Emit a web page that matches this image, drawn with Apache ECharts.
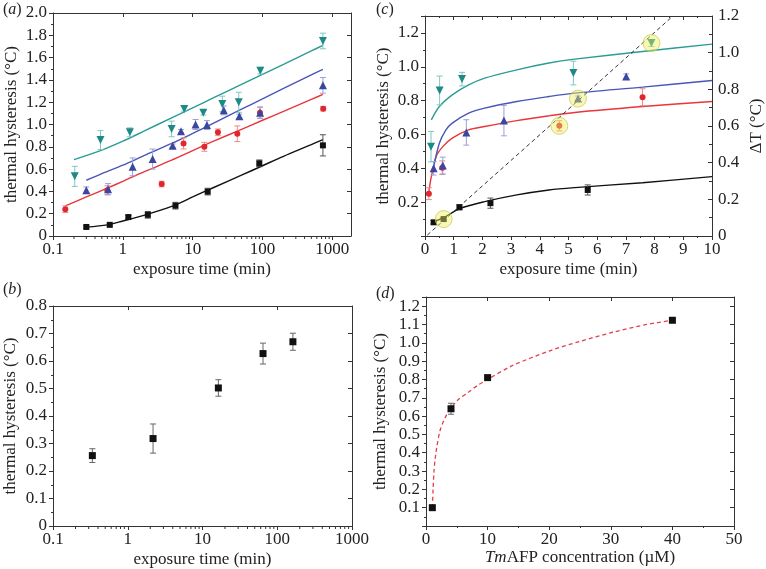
<!DOCTYPE html>
<html><head><meta charset="utf-8">
<script src="https://cdn.jsdelivr.net/npm/echarts@6/dist/echarts.min.js"></script>
<style>html,body{margin:0;padding:0;background:#fff}#c{width:766px;height:569px}</style>
</head><body><div id="c"></div>
<script>
// ---------- Panel (a): log exposure time ----------
const aBlackT = [0.3, 0.65, 1.2, 2.28, 5.67, 16.4, 90, 733];
const aBlackY = [0.081, 0.10, 0.17, 0.19, 0.272, 0.398, 0.652, 0.813];
const aBlackE = [0.01, 0.01, 0.015, 0.03, 0.03, 0.03, 0.03, 0.095];
const aRedT = [0.15, 0.6, 3.6, 7.4, 14.7, 23, 43.6, 92, 740];
const aRedY = [0.24, 0.41, 0.466, 0.83, 0.80, 0.93, 0.917, 1.106, 1.142];
const aRedE = [0.03, 0.04, 0.025, 0.05, 0.04, 0.03, 0.07, 0.05, 0.02];
const aBlueT = [0.3, 0.615, 1.38, 2.67, 5.16, 6.8, 11, 16, 27.9, 46.6, 92.4, 733];
const aBlueY = [0.41, 0.42, 0.62, 0.69, 0.81, 0.94, 1.00, 0.995, 1.127, 1.073, 1.106, 1.351];
const aBlueE = [0.03, 0.05, 0.08, 0.09, 0.015, 0.015, 0.045, 0.04, 0.04, 0.02, 0.05, 0.07];
const aTealT = [0.205, 0.479, 1.26, 5.0, 7.57, 14.2, 26.6, 45.7, 93, 733];
const aTealY = [0.535, 0.86, 0.93, 0.96, 1.14, 1.105, 1.184, 1.199, 1.483, 1.749];
const aTealE = [0.09, 0.085, 0.04, 0.07, 0.02, 0.02, 0.07, 0.09, 0.03, 0.07];
// fitted curves
const aBlackFit = [[0.3,0.08],[0.6,0.10],[1,0.135],[2,0.185],[5,0.265],[10,0.35],[20,0.435],[50,0.545],[100,0.63],[200,0.715],[500,0.82],[733,0.865]];
const aRedFit = [[0.15,0.27],[0.3,0.35],[0.6,0.43],[1,0.49],[2,0.575],[5,0.68],[10,0.765],[20,0.85],[50,0.957],[100,1.038],[200,1.118],[500,1.225],[733,1.27]];
const aBlueFit = [[0.3,0.50],[0.5,0.56],[1,0.635],[2,0.72],[5,0.83],[10,0.92],[20,1.013],[50,1.137],[100,1.23],[200,1.323],[500,1.446],[733,1.495]];
const aTealFit = [[0.2,0.685],[0.5,0.77],[1,0.85],[2,0.94],[5,1.06],[10,1.15],[20,1.24],[50,1.36],[100,1.45],[200,1.54],[500,1.66],[733,1.71]];

// ---------- Panel (b) ----------
const bT = [0.336, 2.18, 16.3, 64.5, 162];
const bY = [0.256, 0.318, 0.502, 0.627, 0.670];
const bE = [0.025, 0.053, 0.03, 0.038, 0.031];

// ---------- Panel (c): linear exposure time ----------
const cBlackT = [0.3, 0.65, 1.2, 2.28, 5.67];
const cBlackY = [0.081, 0.10, 0.17, 0.194, 0.272];
const cBlackE = [0.01, 0.01, 0.015, 0.03, 0.03];
const cRedT = [0.135, 0.60, 4.68, 7.58];
const cRedY = [0.25, 0.404, 0.651, 0.82];
const cRedE = [0.035, 0.04, 0.03, 0.05];
const cBlueT = [0.30, 0.62, 1.44, 2.75, 5.33, 7.01];
const cBlueY = [0.40, 0.416, 0.612, 0.682, 0.812, 0.943];
const cBlueE = [0.04, 0.05, 0.075, 0.09, 0.015, 0.015];
const cTealT = [0.21, 0.51, 1.29, 5.17, 7.89];
const cTealY = [0.528, 0.86, 0.927, 0.963, 1.14];
const cTealE = [0.09, 0.085, 0.04, 0.07, 0.02];
const cHighlight = [[0.65,0.10],[4.68,0.651],[5.33,0.812],[7.89,1.14]];
const cBlackFit = [[0.3,0.083],[0.65,0.108],[1.2,0.161],[2.08,0.203],[3.2,0.243],[4.32,0.272],[5.22,0.286],[7.58,0.315],[10,0.351]];
const cRedFit = [[0.13,0.256],[0.22,0.351],[0.39,0.47],[0.62,0.528],[0.95,0.578],[1.52,0.627],[2.08,0.647],[3.2,0.682],[4.32,0.71],[5.22,0.73],[7.58,0.765],[10,0.795]];
const cBlueFit = [[0.28,0.39],[0.5,0.548],[0.73,0.627],[0.95,0.667],[1.52,0.726],[2.08,0.756],[3.2,0.795],[4.32,0.824],[5.22,0.844],[7.58,0.88],[10,0.919]];
const cTealFit = [[0.22,0.686],[0.5,0.765],[0.95,0.834],[1.52,0.893],[2.08,0.933],[3.2,0.982],[4.32,1.022],[5.22,1.045],[7.58,1.09],[10,1.134]];
const cDeltaT = [[0.08,0.005],[8.64,1.2]];

// ---------- Panel (d) ----------
const dConc = [1.03, 4.06, 10, 40];
const dY = [0.10, 0.64, 0.81, 1.123];
const dE = [0.01, 0.03, 0.01, 0.006];
const dFit = [[1.03,0.10],[1.15,0.20],[1.3,0.30],[1.5,0.37],[1.75,0.43],[2.27,0.52],[3.08,0.59],[3.9,0.635],[5.25,0.69],[6.87,0.73],[8.5,0.77],[10,0.80],[14,0.875],[20,0.955],[25,1.008],[30.4,1.058],[35.8,1.10],[40,1.123]];

// log-axis minor tick positions
const logMinorTicks = [0.2,0.3,0.4,0.5,0.6,0.7,0.8,0.9,2,3,4,5,6,7,8,9,20,30,40,50,60,70,80,90,200,300,400,500,600,700,800,900];

const FONT = '"Liberation Serif", "DejaVu Serif", serif';
const FS = 17;
const C = {
  black: '#111111', blackErr: '#555555',
  red: '#e2262c', redLine: '#e8363a', redErr: '#ef8a8a',
  blue: '#3b46a0', blueLine: '#4a55b8', blueErr: '#9aa0d8',
  teal: '#1d8a86', tealLine: '#2a9c94', tealErr: '#7fc7c2'
};
const lineCol = '#333';

function pts(xs, ys) { return xs.map((x, i) => [x, ys[i]]); }
function errs(xs, ys, es) { return xs.map((x, i) => [x, ys[i], es[i]]); }

function errSeries(xi, yi, xs, ys, es, color) {
  return {
    type: 'custom', xAxisIndex: xi, yAxisIndex: yi, z: 3, silent: true,
    data: errs(xs, ys, es),
    encode: { x: 0, y: 1 },
    renderItem: function (params, api) {
      const x = api.value(0), y = api.value(1), e = api.value(2);
      const lo = api.coord([x, y - e]), hi = api.coord([x, y + e]);
      const w = 3;
      const st = { stroke: color, lineWidth: 1 };
      return { type: 'group', children: [
        { type: 'line', shape: { x1: lo[0], y1: lo[1], x2: hi[0], y2: hi[1] }, style: st },
        { type: 'line', shape: { x1: lo[0] - w, y1: lo[1], x2: lo[0] + w, y2: lo[1] }, style: st },
        { type: 'line', shape: { x1: hi[0] - w, y1: hi[1], x2: hi[0] + w, y2: hi[1] }, style: st }
      ]};
    }
  };
}
function scat(xi, yi, xs, ys, color, symbol, size, rot) {
  return {
    type: 'scatter', xAxisIndex: xi, yAxisIndex: yi, z: 4, silent: true,
    data: pts(xs, ys), symbol: symbol, symbolSize: size, symbolRotate: rot || 0,
    itemStyle: { color: color, opacity: 1 }
  };
}
function fit(xi, yi, data, color, dashed) {
  return {
    type: 'line', xAxisIndex: xi, yAxisIndex: yi, z: 2, silent: true,
    data: data, showSymbol: false, smooth: 0.3,
    lineStyle: { color: color, width: dashed ? 1.3 : 1.4, type: dashed ? [4, 3] : 'solid' }
  };
}
function minorLogTicks(xi, yi) {
  return {
    type: 'custom', xAxisIndex: xi, yAxisIndex: yi, silent: true, z: 5,
    data: logMinorTicks.map(v => [v, 0]),
    encode: { x: 0, y: 1 },
    renderItem: function (params, api) {
      const c = api.coord([api.value(0), 0]);
      return { type: 'line', shape: { x1: c[0], y1: c[1], x2: c[0], y2: c[1] + 3 }, style: { stroke: lineCol, lineWidth: 1 } };
    }
  };
}

const oneDec = v => (v === 0 ? '0' : v.toFixed(1));
const logFmt = v => (v < 1 ? v.toFixed(1) : String(Math.round(v)));
const labelStyle = { fontFamily: FONT, fontSize: FS, color: '#222' };
const nameStyle = { fontFamily: FONT, fontSize: FS, color: '#222' };

function bottomX(grid, type, min, max, extra) {
  return Object.assign({
    type: type, gridIndex: grid, position: 'bottom', min: min, max: max,
    axisLine: { show: true, onZero: false, lineStyle: { color: lineCol } },
    axisTick: { show: true, inside: false, length: 4, lineStyle: { color: lineCol } },
    axisLabel: Object.assign({ margin: 5 }, labelStyle),
    splitLine: { show: false },
    nameLocation: 'middle', nameTextStyle: nameStyle
  }, extra || {});
}
function topX(grid, type, min, max, extra) {
  return Object.assign({
    type: type, gridIndex: grid, position: 'top', min: min, max: max,
    axisLine: { show: true, onZero: false, lineStyle: { color: lineCol } },
    axisTick: { show: true, inside: true, length: 4, lineStyle: { color: lineCol } },
    axisLabel: { show: false }, splitLine: { show: false }
  }, extra || {});
}
function leftY(grid, min, max, interval, extra) {
  return Object.assign({
    type: 'value', gridIndex: grid, position: 'left', min: min, max: max, interval: interval,
    axisLine: { show: true, onZero: false, lineStyle: { color: lineCol } },
    axisTick: { show: true, inside: false, length: 4, lineStyle: { color: lineCol } },
    minorTick: { show: true, splitNumber: 2, length: 2, lineStyle: { color: lineCol } },
    axisLabel: Object.assign({ margin: 6, formatter: oneDec }, labelStyle),
    splitLine: { show: false }, minorSplitLine: { show: false },
    name: 'thermal hysteresis (°C)', nameLocation: 'middle', nameRotate: 90, nameTextStyle: nameStyle
  }, extra || {});
}
function rightY(grid, min, max, interval, extra) {
  return Object.assign({
    type: 'value', gridIndex: grid, position: 'right', min: min, max: max, interval: interval,
    axisLine: { show: true, onZero: false, lineStyle: { color: lineCol } },
    axisTick: { show: true, inside: true, length: 4, lineStyle: { color: lineCol } },
    axisLabel: { show: false }, splitLine: { show: false }
  }, extra || {});
}

const panelTitle = (txt, l, t) => ({
  text: '({i|' + txt + '})', left: l, top: t, padding: 0,
  textStyle: { fontFamily: FONT, fontSize: 16, fontWeight: 'normal', color: '#222',
    rich: { i: { fontFamily: FONT, fontSize: 16, fontStyle: 'italic', color: '#222' } } }
});

const option = {
  animation: false,
  backgroundColor: '#fff',
  title: [panelTitle('a', 3, 2), panelTitle('b', 3, 282), panelTitle('c', 376, 2), panelTitle('d', 376, 286)],
  grid: [
    { left: 53, top: 13, width: 298, height: 223 },
    { left: 53, top: 306, width: 299, height: 220 },
    { left: 425, top: 16, width: 297, height: 220 },
    { left: 426, top: 297, width: 308, height: 229 }
  ],
  xAxis: [
    bottomX(0, 'log', 0.1, 1850, { logBase: 10, axisLabel: Object.assign({ margin: 5, showMaxLabel: false, formatter: logFmt }, labelStyle), name: 'exposure time (min)', nameGap: 25 }),
    topX(0, 'log', 0.1, 1850, { logBase: 10 }),
    bottomX(1, 'log', 0.1, 1000, { logBase: 10, axisLabel: Object.assign({ margin: 5, formatter: logFmt }, labelStyle), name: 'exposure time (min)', nameGap: 25 }),
    topX(1, 'log', 0.1, 1000, { logBase: 10 }),
    bottomX(2, 'value', 0, 10, { interval: 1, minorTick: { show: true, splitNumber: 2, length: 2, lineStyle: { color: lineCol } }, name: 'exposure time (min)', nameGap: 25 }),
    topX(2, 'value', 0, 10, { interval: 1, minorTick: { show: true, splitNumber: 2, length: 2, lineStyle: { color: lineCol } } }),
    bottomX(3, 'value', 0, 50, { interval: 10, minorTick: { show: true, splitNumber: 2, length: 2, lineStyle: { color: lineCol } },
      name: '{i|Tm}AFP concentration (µM)', nameGap: 22,
      nameTextStyle: Object.assign({}, nameStyle, { rich: { i: { fontFamily: FONT, fontSize: FS, fontStyle: 'italic', color: '#222' } } }) }),
    topX(3, 'value', 0, 50, { interval: 10 })
  ],
  yAxis: [
    leftY(0, 0, 2.0, 0.2, { nameGap: 33 }),
    rightY(0, 0, 2.0, 0.2),
    leftY(1, 0, 0.8, 0.1, { nameGap: 34 }),
    rightY(1, 0, 0.8, 0.1),
    leftY(2, 0, 1.3, 0.2, { nameGap: 33, axisLabel: Object.assign({ margin: 6, formatter: oneDec, showMinLabel: false, showMaxLabel: false }, labelStyle) }),
    {
      type: 'value', gridIndex: 2, position: 'right', min: 0, max: 1.2, interval: 0.2,
      axisLine: { show: true, onZero: false, lineStyle: { color: lineCol } },
      axisTick: { show: true, inside: true, length: 4, lineStyle: { color: lineCol } },
      minorTick: { show: true, splitNumber: 2, length: 3, lineStyle: { color: lineCol } },
      axisLabel: Object.assign({ margin: 6, formatter: oneDec }, labelStyle),
      splitLine: { show: false }, minorSplitLine: { show: false },
      name: 'ΔT (°C)', nameLocation: 'middle', nameRotate: 90, nameGap: 36, nameTextStyle: nameStyle
    },
    leftY(3, 0, 1.25, 0.1, { nameGap: 37, axisLabel: Object.assign({ margin: 6, formatter: oneDec, showMinLabel: false, showMaxLabel: false }, labelStyle) }),
    rightY(3, 0, 1.25, 0.1)
  ],
  series: [
    // panel a
    fit(0, 0, aBlackFit, C.black), fit(0, 0, aRedFit, C.redLine), fit(0, 0, aBlueFit, C.blueLine), fit(0, 0, aTealFit, C.tealLine),
    errSeries(0, 0, aBlackT, aBlackY, aBlackE, C.blackErr),
    errSeries(0, 0, aRedT, aRedY, aRedE, C.redErr),
    errSeries(0, 0, aBlueT, aBlueY, aBlueE, C.blueErr),
    errSeries(0, 0, aTealT, aTealY, aTealE, C.tealErr),
    scat(0, 0, aBlackT, aBlackY, C.black, 'rect', 6),
    scat(0, 0, aRedT, aRedY, C.red, 'circle', 6),
    scat(0, 0, aBlueT, aBlueY, C.blue, 'triangle', 8),
    scat(0, 0, aTealT, aTealY, C.teal, 'triangle', 8, 180),
    minorLogTicks(0, 0),
    // panel b
    errSeries(2, 2, bT, bY, bE, '#666'),
    scat(2, 2, bT, bY, C.black, 'rect', 7),
    minorLogTicks(2, 2),
    // panel c
    fit(4, 4, cBlackFit, C.black), fit(4, 4, cRedFit, C.redLine), fit(4, 4, cBlueFit, C.blueLine), fit(4, 4, cTealFit, C.tealLine),
    {
      type: 'line', xAxisIndex: 4, yAxisIndex: 5, z: 2, silent: true, data: cDeltaT, showSymbol: false,
      lineStyle: { color: '#333', width: 1, type: [4, 3] }
    },
    errSeries(4, 4, cBlackT, cBlackY, cBlackE, C.blackErr),
    errSeries(4, 4, cRedT, cRedY, cRedE, C.redErr),
    errSeries(4, 4, cBlueT, cBlueY, cBlueE, C.blueErr),
    errSeries(4, 4, cTealT, cTealY, cTealE, C.tealErr),
    scat(4, 4, cBlackT, cBlackY, C.black, 'rect', 6),
    scat(4, 4, cRedT, cRedY, C.red, 'circle', 6),
    scat(4, 4, cBlueT, cBlueY, C.blue, 'triangle', 8),
    scat(4, 4, cTealT, cTealY, C.teal, 'triangle', 8, 180),
    {
      type: 'scatter', xAxisIndex: 4, yAxisIndex: 4, z: 6, silent: true, data: cHighlight,
      symbol: 'circle', symbolSize: 17,
      itemStyle: { color: 'rgba(236,236,90,0.55)', borderColor: 'rgba(200,200,80,0.9)', borderWidth: 1 }
    },
    // panel d
    fit(6, 6, dFit, '#e0404a', true),
    errSeries(6, 6, dConc, dY, dE, '#666'),
    scat(6, 6, dConc, dY, C.black, 'rect', 7)
  ]
};

const chart = echarts.init(document.getElementById('c'), null, { renderer: 'canvas' });
chart.setOption(option);
</script>
</body></html>
